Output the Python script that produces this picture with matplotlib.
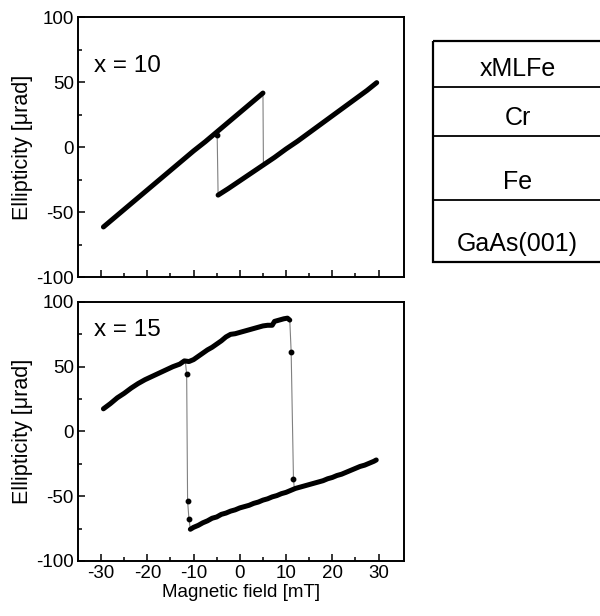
import matplotlib.pyplot as plt
from matplotlib.ticker import FixedLocator
from matplotlib.patches import Rectangle

plt.rcParams['font.family'] = ['Liberation Sans', 'DejaVu Sans']
plt.rcParams['axes.unicode_minus'] = False

# Kerr ellipticity loops, x = 10 ML Fe
x10_upper_field = [-29.5, -27.5, -25, -22.5, -20, -17.5, -15, -12.5, -10, -7.5,
                   -5, -2.5, 0, 2.5, 5]
x10_upper_ell = [-61.5, -55.5, -48, -40.5, -33, -25.5, -18, -10.5, -3, 4,
                 11.5, 19, 26.5, 34, 41.5]
x10_lower_field = [-4.7, -2.5, 0, 2.5, 5, 7.5, 10, 12.5, 15, 17.5, 20, 22.5,
                   25, 27.5, 29.6]
x10_lower_ell = [-37, -32, -26, -20, -14, -8, -1.5, 4.5, 11, 17.5, 24, 30.5,
                 37, 43.5, 49.5]
x10_jump_up_field = [5.0, 5.1]
x10_jump_up_ell = [41.5, -13]
x10_jump_down_field = [-4.7, -4.9, -5.0]
x10_jump_down_ell = [-37, 9, 11.5]

# x = 15 ML Fe
x15_upper_field = [-29.5, -28, -26.5, -25, -23.5, -22, -20.5, -19, -17.5, -16,
                   -14.5, -13, -12, -11, -10, -9, -8, -7, -6, -5, -4, -3, -2,
                   -1, 0, 1, 2, 3, 4, 5, 6, 7, 7.5, 8.5, 9.5, 10.3, 10.8]
x15_upper_ell = [17.5, 21.5, 26, 29.5, 33.5, 37, 40, 42.5, 45, 47.5,
                 50, 52, 54.5, 54, 55.5, 58, 60.5, 63, 65, 67.5, 70, 73, 75,
                 75.5, 76.5, 77.5, 78.5, 79.5, 80.5, 81.5, 82, 82, 85, 86, 87,
                 87.5, 86]
x15_lower_field = [-10.7, -10, -9, -8, -7, -6, -5, -4, -3, -2, -1, 0, 1, 2, 3,
                   4, 5, 6, 7, 8, 9, 10, 11, 12, 13, 14, 15, 16, 17, 18, 19,
                   20, 21, 22, 23, 24, 25, 26, 27, 28, 29, 29.5]
x15_lower_ell = [-75.5, -74, -72.5, -70.5, -69, -67, -66, -64, -63, -61.5,
                 -60.5, -59, -58, -57, -55.5, -54.5, -53, -52, -50.5, -49.5,
                 -48, -47, -45.5, -44, -43, -42, -41, -40, -39, -38, -36.5,
                 -35.5, -34, -33, -31.5, -30, -28.5, -27, -26, -24.5, -23, -22]
x15_jump_up_field = [10.8, 11.1, 11.6, 11.8]
x15_jump_up_ell = [86, 61.5, -36.8, -44.5]
x15_jump_down_field = [-10.7, -11.0, -11.3, -11.5, -11.8]
x15_jump_down_ell = [-75.5, -67.7, -53.6, 44.2, 54.5]

# tick positions
field_major = [-30, -20, -10, 0, 10, 20, 30]
field_minor = [-25, -15, -5, 5, 15, 25]
ell_major = [-100, -50, 0, 50, 100]
ell_minor = [-75, -25, 25, 75]

# sample layer stack, top to bottom
layer_names = ['xMLFe', 'Cr', 'Fe', 'GaAs(001)']
layer_heights = [46, 49, 64, 62]


def plot_loop(ax, branches, jumps, label, label_y):
    for field, ell in jumps:
        ax.plot(field, ell, color='0.5', lw=0.8, zorder=2)
        ax.plot(field[1:-1], ell[1:-1], 'o', color='black', ms=3.2, zorder=3)
    for field, ell in branches:
        ax.plot(field, ell, color='black', lw=3.6, solid_capstyle='round',
                solid_joinstyle='round', zorder=4)
    ax.text(0.05, label_y, label, transform=ax.transAxes, fontsize=17.5,
            va='center', ha='left')
    ax.set_xlim(-35, 35.5)
    ax.set_ylim(-100, 100)
    ax.xaxis.set_major_locator(FixedLocator(field_major))
    ax.xaxis.set_minor_locator(FixedLocator(field_minor))
    ax.yaxis.set_major_locator(FixedLocator(ell_major))
    ax.yaxis.set_minor_locator(FixedLocator(ell_minor))
    ax.tick_params(which='both', direction='in', top=False, right=False,
                   labelsize=13.5, width=1.1)
    ax.tick_params(which='major', length=5, pad=3)
    ax.tick_params(which='minor', length=3)
    for sp in ax.spines.values():
        sp.set_linewidth(1.4)
    ax.set_ylabel('Ellipticity [\u03bcrad]', fontsize=15.5, labelpad=2)


fig = plt.figure(figsize=(6, 6.16), dpi=100)

ax1 = fig.add_axes([0.13, 0.5503, 0.5433, 0.4221])
plot_loop(ax1,
          [(x10_upper_field, x10_upper_ell), (x10_lower_field, x10_lower_ell)],
          [(x10_jump_up_field, x10_jump_up_ell),
           (x10_jump_down_field, x10_jump_down_ell)],
          'x = 10', 0.81)
ax1.tick_params(labelbottom=False)

ax2 = fig.add_axes([0.13, 0.0893, 0.5433, 0.4205])
plot_loop(ax2,
          [(x15_upper_field, x15_upper_ell), (x15_lower_field, x15_lower_ell)],
          [(x15_jump_up_field, x15_jump_up_ell),
           (x15_jump_down_field, x15_jump_down_ell)],
          'x = 15', 0.89)
ax2.set_xlabel('Magnetic field [mT]', fontsize=13.5, labelpad=1)

# layer schematic
ax3 = fig.add_axes([0.7217, 0.5747, 0.2817, 0.3588])
ax3.set_axis_off()
total = sum(layer_heights)
ax3.set_xlim(0, 1)
ax3.set_ylim(total, 0)
ax3.add_patch(Rectangle((0, 0), 1, total, fill=False, lw=1.6,
                        edgecolor='black', clip_on=False))
top = 0
for name, h in zip(layer_names, layer_heights):
    bottom = top + h
    if bottom < total:
        ax3.plot([0, 1], [bottom, bottom], color='black', lw=1.3,
                 clip_on=False)
    ax3.text(0.5, bottom - 10.5, name, ha='center', va='baseline',
             fontsize=18)
    top = bottom

fig.savefig('out.png', dpi=100)
